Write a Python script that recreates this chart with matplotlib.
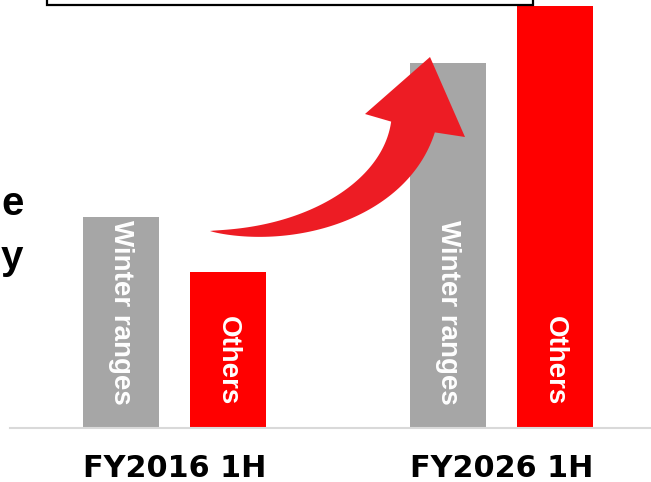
import numpy as np
import matplotlib.pyplot as plt
from matplotlib.patches import Polygon, Rectangle

# ── Data ──────────────────────────────────────────────────────────────────────
periods       = ["FY2016 1H", "FY2026 1H"]
series_names  = ["Winter ranges", "Others"]
winter_ranges = [100, 173]   # index, FY2016 winter ranges = 100
others        = [74, 200]
side_text     = ["e", "y"]   # cut-off words at the left edge

GRAY  = "#A6A6A6"
RED   = "#FF0000"
ARROW = "#ED1C24"
W, H  = 651, 482

fig = plt.figure(figsize=(W / 100, H / 100), dpi=100)

# ── Bars ──────────────────────────────────────────────────────────────────────
ax = fig.add_axes([10 / W, 54 / H, 641 / W, 428 / H])
x = np.arange(len(periods))
off, bw = 0.1636, 0.2324

ax.bar(x - off, winter_ranges, bw, color=GRAY, zorder=2)
ax.bar(x + off, others, bw, color=RED, zorder=2)

lab = dict(rotation=270, ha="center", va="bottom", color="white",
           fontsize=20, fontweight="bold", family="Liberation Sans", zorder=3)
for xi in x:
    ax.text(xi - off, 11, series_names[0], **lab)
    ax.text(xi + off, 11, series_names[1], **lab)

ax.set_xlim(-0.503, 1.457)
ax.set_ylim(0, 202.8)
for s in ["top", "right", "left"]:
    ax.spines[s].set_visible(False)
ax.spines["bottom"].set_color("#D9D9D9")
ax.spines["bottom"].set_linewidth(1.5)
ax.set_yticks([])
ax.set_xticks(x, periods, fontsize=21.8, fontweight="bold", family="DejaVu Sans")
ax.tick_params(axis="x", length=0, pad=19)

# ── Overlay in pixel coordinates: arrow, box, side text ──────────────────────
ov = fig.add_axes([0, 0, 1, 1], zorder=5)
ov.set_xlim(0, W)
ov.set_ylim(H, 0)
ov.axis("off")
ov.patch.set_alpha(0)

# curved arrow: cubic bezier centreline, tapered shaft
P = np.array([[210, 231], [300, 240], [395, 200], [413, 127]], dtype=float)
t = np.linspace(0, 1, 80)[:, None]
B = (1 - t)**3 * P[0] + 3 * (1 - t)**2 * t * P[1] + 3 * (1 - t) * t**2 * P[2] + t**3 * P[3]
dB = 3 * (1 - t)**2 * (P[1] - P[0]) + 6 * (1 - t) * t * (P[2] - P[1]) + 3 * t**2 * (P[3] - P[2])
nrm = np.column_stack([-dB[:, 1], dB[:, 0]])
nrm /= np.linalg.norm(nrm, axis=1)[:, None]
wid = 45 * t**0.8
left = B - nrm * wid / 2
right = B + nrm * wid / 2
head = np.array([[365, 114], [430, 57], [465, 137]])
outline = np.vstack([left, head, right[::-1]])
ov.add_patch(Polygon(outline, closed=True, facecolor=ARROW, edgecolor="none"))

# box at the top (mostly outside the frame)
ov.add_patch(Rectangle((47, -40), 486, 45, facecolor="white",
                       edgecolor="black", linewidth=1.6))

ov.text(1, 215, side_text[0], fontsize=29, fontweight="bold",
        family="Liberation Sans", ha="left", va="baseline")
ov.text(1, 269, side_text[1], fontsize=29, fontweight="bold",
        family="Liberation Sans", ha="left", va="baseline")

fig.savefig("out.png", dpi=100)
